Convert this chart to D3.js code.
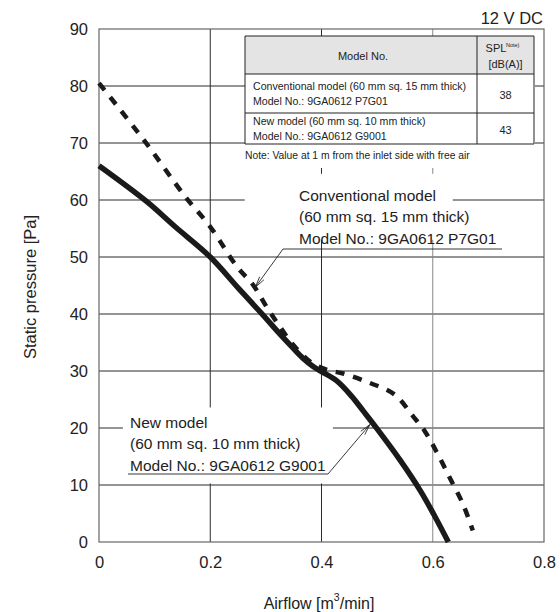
<!DOCTYPE html>
<html>
<head>
<meta charset="utf-8">
<script src="https://cdn.jsdelivr.net/npm/d3@7"></script>
<style>
  body { margin: 0; background: #fff; }
  svg { display: block; }
  text { font-family: 'Liberation Sans', Arial, sans-serif; fill: #222; }
</style>
</head>
<body>
<div id="display"></div>
<script>
// values
var airflowTicks = [0, 0.2, 0.4, 0.6, 0.8];
var pressureTicks = [0, 10, 20, 30, 40, 50, 60, 70, 80, 90];

var newAirflow  = [0, 0.086, 0.137, 0.2, 0.25, 0.295, 0.325, 0.349, 0.367, 0.385, 0.4, 0.427, 0.454, 0.475, 0.498, 0.541, 0.577, 0.601, 0.628];
var newPressure = [66, 59.7, 55.3, 50, 44.6, 39.8, 36.5, 34.0, 32.2, 30.8, 29.9, 28.3, 25.6, 23.0, 20.1, 14.4, 9.1, 5.0, 0];

var convAirflow  = [0, 0.08, 0.155, 0.2, 0.248, 0.277, 0.301, 0.325, 0.349, 0.38, 0.41, 0.437, 0.487, 0.531, 0.565, 0.586, 0.607, 0.631, 0.655, 0.672];
var convPressure = [80.5, 70.6, 60.6, 55.3, 48.3, 45.1, 41.3, 37.8, 34.6, 31.6, 30.2, 29.6, 27.9, 25.9, 22, 19.4, 15.8, 11.2, 6.5, 2];

var tableHeader = ['Model No.', 'SPL', '[dB(A)]'];
var tableModels = [
  ['Conventional model (60 mm sq. 15 mm thick)', 'Model No.: 9GA0612 P7G01'],
  ['New model (60 mm sq. 10 mm thick)', 'Model No.: 9GA0612 G9001']
];
var tableSpl = [38, 43];

var convLabel = ['Conventional model', '(60 mm sq. 15 mm thick)', 'Model No.: 9GA0612 P7G01'];
var newLabel = ['New model', '(60 mm sq. 10 mm thick)', 'Model No.: 9GA0612 G9001'];

var svg = d3.select('#display')
    .append('svg')
    .attr('width', 560)
    .attr('height', 612);

var x = d3.scaleLinear().domain([0, 0.8]).range([99, 544]);
var y = d3.scaleLinear().domain([0, 90]).range([542, 29]);

svg.append('defs').append('marker')
    .attr('id', 'open-arrow')
    .attr('viewBox', '-12 -5 14 10')
    .attr('refX', 0)
    .attr('refY', 0)
    .attr('markerWidth', 14)
    .attr('markerHeight', 10)
    .attr('markerUnits', 'userSpaceOnUse')
    .attr('orient', 'auto')
  .append('path')
    .attr('d', 'M-11,-2.6L0,0L-11,2.6')
    .attr('fill', 'none')
    .attr('stroke', '#222')
    .attr('stroke-width', 0.8);

// grid
var grid = svg.append('g').classed('grid', true);
grid.selectAll('line.h')
    .data(pressureTicks.slice(1, -1))
    .enter().append('line')
    .attr('x1', x(0)).attr('x2', x(0.8))
    .attr('y1', function (d) { return y(d); })
    .attr('y2', function (d) { return y(d); })
    .attr('stroke', '#2a2a2a')
    .attr('stroke-width', 1);
grid.selectAll('line.v')
    .data(airflowTicks.slice(1, -1))
    .enter().append('line')
    .attr('y1', y(0)).attr('y2', y(90))
    .attr('x1', function (d) { return x(d); })
    .attr('x2', function (d) { return x(d); })
    .attr('stroke', function (d) { return d === 0.6 ? '#888' : '#2a2a2a'; })
    .attr('stroke-width', 1);

// white boxes that break the grid behind the labels
var knockouts = [
  [x(0.262), y(64.6), 208, 66],
  [x(0.043), y(23.6), 210, 76],
  [245, 36, 290, 132]
];
svg.append('g').selectAll('rect')
    .data(knockouts)
    .enter().append('rect')
    .attr('x', function (d) { return d[0]; })
    .attr('y', function (d) { return d[1]; })
    .attr('width', function (d) { return d[2]; })
    .attr('height', function (d) { return d[3]; })
    .attr('fill', '#fff');

// frame
svg.append('rect')
    .attr('x', x(0)).attr('y', y(90))
    .attr('width', x(0.8) - x(0)).attr('height', y(0) - y(90))
    .attr('fill', 'none')
    .attr('stroke', '#666')
    .attr('stroke-width', 1.2);

// axes
var xAxis = svg.append('g')
    .attr('transform', 'translate(0,' + y(0) + ')')
    .call(d3.axisBottom(x).tickValues(airflowTicks).tickSize(0).tickPadding(14)
      .tickFormat(function (d) { return d === 0 ? '0' : d3.format('.1f')(d); }));
var yAxis = svg.append('g')
    .attr('transform', 'translate(' + x(0) + ',0)')
    .call(d3.axisLeft(y).tickValues(pressureTicks).tickSize(0).tickPadding(11));
[xAxis, yAxis].forEach(function (a) {
  a.select('.domain').remove();
  a.selectAll('text')
      .attr('font-family', null)
      .style('font-size', '16.5px')
      .attr('fill', '#222');
});

svg.append('text')
    .attr('x', 319).attr('y', 603)
    .attr('text-anchor', 'middle')
    .attr('dominant-baseline', 'central')
    .style('font-size', '16px')
    .call(function (t) {
      t.append('tspan').text('Airflow [m');
      t.append('tspan').attr('dy', -6).style('font-size', '10.5px').text('3');
      t.append('tspan').attr('dy', 6).text('/min]');
    });

svg.append('text')
    .attr('transform', 'translate(30,287) rotate(-90)')
    .attr('text-anchor', 'middle')
    .attr('dominant-baseline', 'central')
    .style('font-size', '16.5px')
    .text('Static pressure [Pa]');

svg.append('text')
    .attr('x', 543).attr('y', 18)
    .attr('text-anchor', 'end')
    .attr('dominant-baseline', 'central')
    .style('font-size', '16.5px')
    .text('12 V DC');

// curves
var line = d3.line()
    .x(function (d) { return x(d[0]); })
    .y(function (d) { return y(d[1]); })
    .curve(d3.curveCatmullRom.alpha(0.5));

svg.append('path')
    .datum(d3.zip(convAirflow, convPressure))
    .attr('d', line)
    .attr('fill', 'none')
    .attr('stroke', '#1a1a1a')
    .attr('stroke-width', 4.5)
    .attr('stroke-dasharray', '9,9');

svg.append('path')
    .datum(d3.zip(newAirflow, newPressure))
    .attr('d', line)
    .attr('fill', 'none')
    .attr('stroke', '#1a1a1a')
    .attr('stroke-width', 5.5);

// table
var table = svg.append('g').classed('table', true);
var colX = [245, 477, 534];
var rowY = [36, 74, 113, 144];
var rowText = [[86, 100.5], [121, 136]];
table.append('rect')
    .attr('x', colX[0]).attr('y', rowY[0])
    .attr('width', colX[2] - colX[0]).attr('height', rowY[1] - rowY[0])
    .attr('fill', '#e4e4e4');
table.selectAll('line.row')
    .data(rowY)
    .enter().append('line')
    .attr('x1', colX[0]).attr('x2', colX[2])
    .attr('y1', function (d) { return d; })
    .attr('y2', function (d) { return d; })
    .attr('stroke', '#222');
table.selectAll('line.col')
    .data(colX)
    .enter().append('line')
    .attr('y1', rowY[0]).attr('y2', rowY[3])
    .attr('x1', function (d) { return d; })
    .attr('x2', function (d) { return d; })
    .attr('stroke', '#222');

table.append('text')
    .attr('x', 363).attr('y', 56)
    .attr('text-anchor', 'middle')
    .attr('dominant-baseline', 'central')
    .style('font-size', '11px')
    .text(tableHeader[0]);
table.append('text')
    .attr('x', 496).attr('y', 48)
    .attr('text-anchor', 'middle')
    .attr('dominant-baseline', 'central')
    .style('font-size', '11px')
    .text(tableHeader[1]);
table.append('text')
    .attr('x', 506).attr('y', 45)
    .attr('text-anchor', 'start')
    .attr('dominant-baseline', 'central')
    .style('font-size', '5.5px')
    .text('Note)');
table.append('text')
    .attr('x', (colX[1] + colX[2]) / 2).attr('y', 64)
    .attr('text-anchor', 'middle')
    .attr('dominant-baseline', 'central')
    .style('font-size', '11px')
    .text(tableHeader[2]);

tableModels.forEach(function (lines, i) {
  lines.forEach(function (s, j) {
    table.append('text')
        .attr('x', 253)
        .attr('y', rowText[i][j])
        .attr('dominant-baseline', 'central')
        .style('font-size', '10.6px')
        .text(s);
  });
  table.append('text')
      .attr('x', (colX[1] + colX[2]) / 2)
      .attr('y', (rowY[i + 1] + rowY[i + 2]) / 2 + 1)
      .attr('text-anchor', 'middle')
      .attr('dominant-baseline', 'central')
      .style('font-size', '11px')
      .text(tableSpl[i]);
});
table.append('text')
    .attr('x', 245).attr('y', 155)
    .attr('dominant-baseline', 'central')
    .style('font-size', '10.3px')
    .text('Note: Value at 1 m from the inlet side with free air');

// callouts
function callout(lines, tx, ty, ulx1, ulx2, uly, tip) {
  var g = svg.append('g');
  lines.forEach(function (s, i) {
    g.append('text')
        .attr('x', tx).attr('y', ty + i * 21.5)
        .attr('dominant-baseline', 'central')
        .style('font-size', '15.5px')
        .text(s);
  });
  g.append('path')
      .attr('d', 'M' + ulx2 + ',' + uly + 'H' + ulx1 + 'L' + x(tip[0]) + ',' + y(tip[1]))
      .attr('fill', 'none')
      .attr('stroke', '#222')
      .attr('stroke-width', 0.9)
      .attr('marker-end', 'url(#open-arrow)');
}
callout(convLabel, 299, 195, 283, 502, 249, [0.281, 44.7]);
callout(newLabel, 130, 422, 328, 128, 474, [0.487, 20.6]);
</script>
</body>
</html>
